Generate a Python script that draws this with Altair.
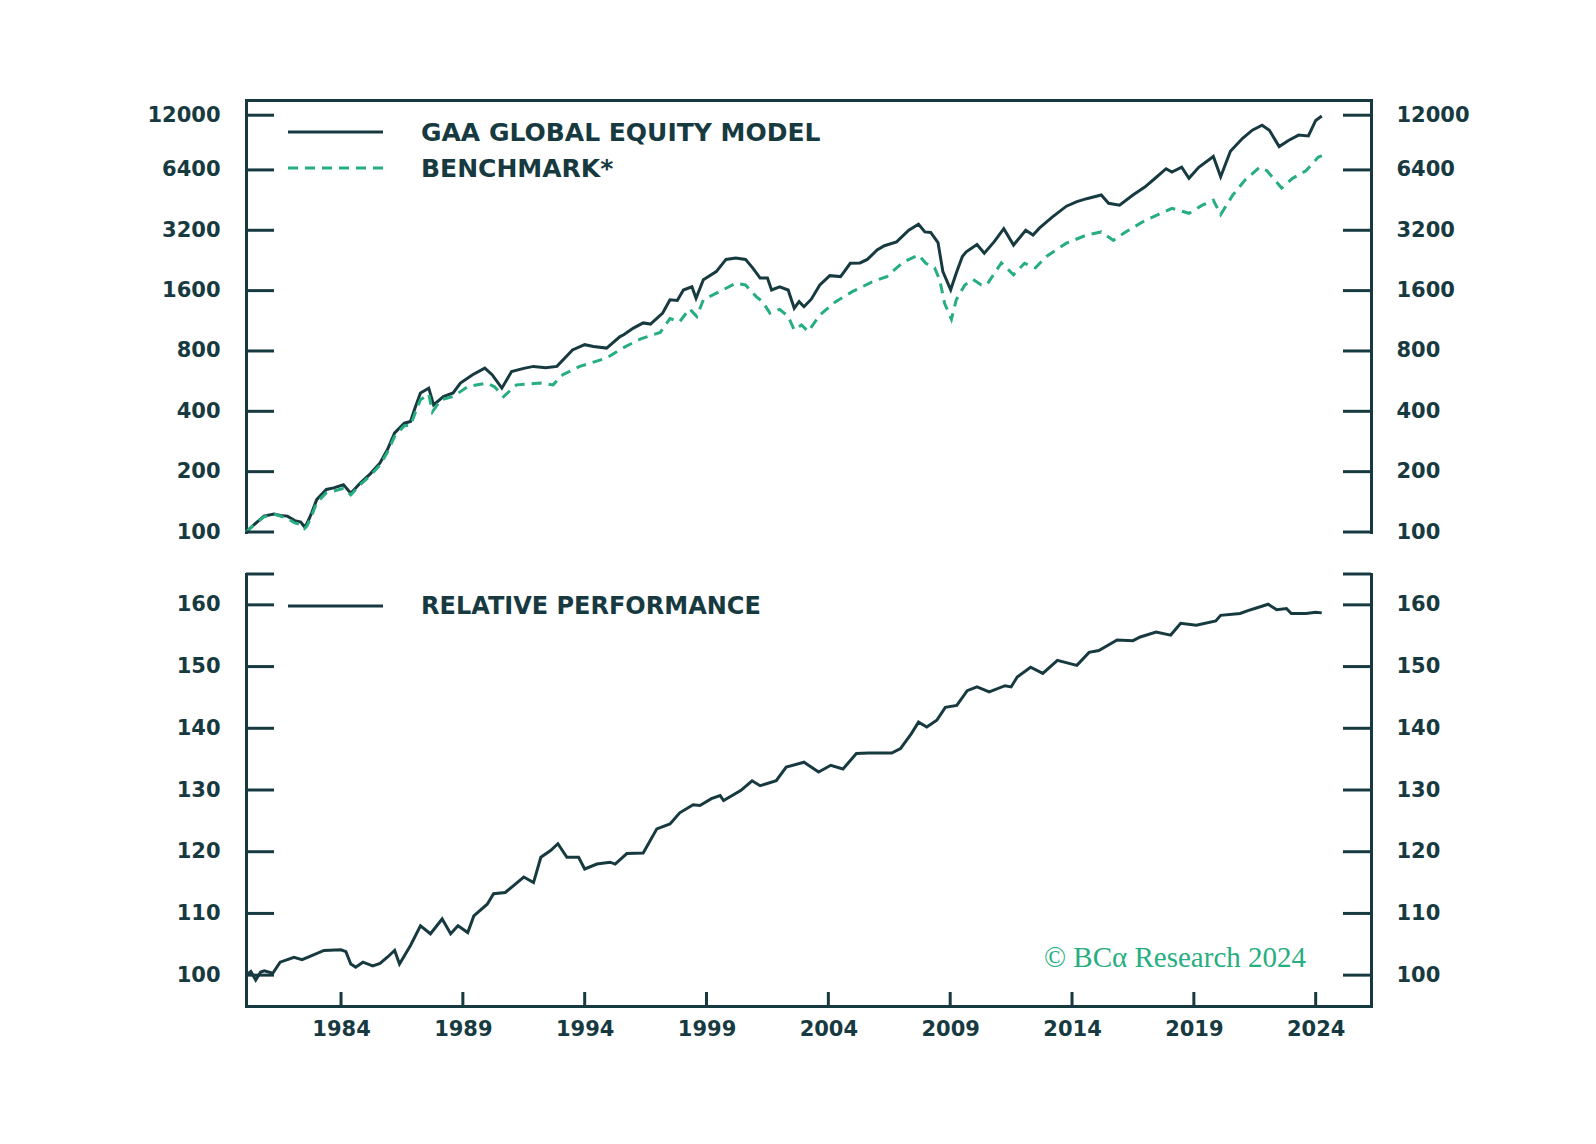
import altair as alt
import pandas as pd

# ---------------- data ----------------
model_years = [1980.1, 1980.4, 1980.84, 1981.25, 1981.5, 1981.8, 1982.1, 1982.35, 1982.5, 1982.6,
               1982.8, 1983.0, 1983.4, 1983.7, 1984.1, 1984.4, 1984.8, 1985.2, 1985.6, 1985.9,
               1986.2, 1986.6, 1986.85, 1987.05, 1987.26, 1987.6, 1987.8, 1988.2, 1988.6, 1988.9,
               1989.4, 1989.9, 1990.2, 1990.6, 1991.0, 1991.5, 1991.9, 1992.4, 1992.86, 1993.5,
               1994.0, 1994.36, 1994.9, 1995.45, 1995.6, 1996.0, 1996.4, 1996.7, 1997.2, 1997.5,
               1997.8, 1998.05, 1998.4, 1998.57, 1998.87, 1999.4, 1999.8, 2000.2, 2000.6, 2000.9,
               2001.2, 2001.5, 2001.67, 2002.0, 2002.35, 2002.6, 2002.8, 2003.0, 2003.3, 2003.65,
               2004.06, 2004.5, 2004.9, 2005.3, 2005.6, 2006.0, 2006.3, 2006.8, 2007.3, 2007.7,
               2007.96, 2008.2, 2008.5, 2008.7, 2009.02, 2009.25, 2009.5, 2009.66, 2010.1, 2010.4,
               2010.8, 2011.2, 2011.6, 2012.1, 2012.4, 2012.67, 2013.2, 2013.77, 2014.2, 2014.6,
               2015.2, 2015.5, 2015.95, 2016.5, 2017.0, 2017.4, 2017.86, 2018.1, 2018.5, 2018.8,
               2019.2, 2019.8, 2020.1, 2020.5, 2021.0, 2021.4, 2021.8, 2022.1, 2022.5, 2022.9,
               2023.3, 2023.7, 2024.0, 2024.25]
model_values = [100, 108, 120, 123, 121, 120, 114, 112, 106, 110,
                125, 145, 163, 166, 172, 156, 176, 195, 221, 257,
                312, 349, 356, 420, 494, 522, 431, 474, 494, 553,
                609, 657, 609, 522, 632, 655, 670, 660, 670, 810,
                860, 843, 827, 944, 963, 1040, 1104, 1090, 1236, 1440,
                1430, 1612, 1672, 1465, 1813, 1990, 2290, 2330, 2290, 2073,
                1847, 1847, 1612, 1672, 1612, 1307, 1410, 1330, 1450, 1707,
                1900, 1880, 2190, 2200, 2290, 2550, 2680, 2800, 3200, 3430,
                3140, 3120, 2780, 1990, 1615, 1960, 2370, 2500, 2720, 2460,
                2800, 3260, 2700, 3200, 3030, 3290, 3730, 4220, 4450, 4600,
                4800, 4360, 4270, 4800, 5270, 5800, 6490, 6240, 6600, 5810,
                6600, 7470, 5920, 7930, 9200, 10100, 10700, 10100, 8370, 9000,
                9550, 9450, 11300, 11900]

bench_years = [1980.1, 1980.4, 1980.84, 1981.25, 1981.5, 1981.8, 1982.1, 1982.35, 1982.5, 1982.6,
               1982.8, 1983.0, 1983.4, 1983.7, 1984.1, 1984.4, 1984.8, 1985.2, 1985.6, 1985.9,
               1986.2, 1986.6, 1986.85, 1987.05, 1987.26, 1987.6, 1987.75, 1988.1, 1988.6, 1989.2,
               1990.0, 1990.3, 1990.67, 1991.2, 1991.7, 1992.2, 1992.7, 1993.1, 1993.8, 1994.3,
               1994.9, 1995.5, 1996.3, 1997.1, 1997.5, 1997.9, 1998.3, 1998.6, 1998.87, 1999.55,
               2000.2, 2000.6, 2001.05, 2001.3, 2001.6, 2002.0, 2002.35, 2002.6, 2002.9, 2003.17,
               2003.65, 2004.3, 2005.0, 2005.8, 2006.4, 2007.07, 2007.7, 2008.0, 2008.36, 2008.57,
               2008.77, 2009.05, 2009.25, 2009.6, 2009.94, 2010.28, 2010.5, 2011.1, 2011.6, 2012.05,
               2012.5, 2012.95, 2013.77, 2014.6, 2015.2, 2015.7, 2016.2, 2017.0, 2018.1, 2018.8,
               2019.35, 2019.8, 2020.1, 2020.6, 2021.1, 2021.7, 2022.0, 2022.6, 2023.05, 2023.6,
               2024.1, 2024.25]
bench_values = [100, 108, 119, 123, 120, 117, 111, 109, 104, 107,
                121, 140, 157, 160, 165, 153, 173, 191, 216, 250,
                300, 339, 340, 395, 457, 488, 398, 457, 474, 531,
                553, 530, 474, 542, 548, 553, 542, 609, 670, 700,
                738, 820, 920, 990, 1160, 1120, 1300, 1190, 1440, 1585,
                1740, 1707, 1490, 1410, 1236, 1290, 1190, 1018, 1078, 1000,
                1210, 1410, 1585, 1770, 1880, 2220, 2410, 2190, 2080, 1813,
                1384, 1150, 1440, 1707, 1820, 1707, 1710, 2200, 1920, 2190,
                2080, 2370, 2760, 3030, 3140, 2850, 3140, 3580, 4120, 3890,
                4270, 4520, 3830, 4800, 5700, 6600, 6340, 5200, 5810, 6340,
                7400, 7540]

rel_years = [1980.1, 1980.3, 1980.5, 1980.7, 1980.85, 1981.2, 1981.5, 1982.07, 1982.4, 1982.75,
             1983.3, 1984.0, 1984.2, 1984.4, 1984.6, 1984.9, 1985.3, 1985.6, 1985.9, 1986.2,
             1986.4, 1986.85, 1987.26, 1987.67, 1988.15, 1988.5, 1988.8, 1989.2, 1989.45, 1990.0,
             1990.26, 1990.74, 1991.08, 1991.5, 1991.9, 1992.2, 1992.6, 1992.9, 1993.27, 1993.75,
             1994.0, 1994.5, 1995.04, 1995.25, 1995.73, 1996.4, 1996.96, 1997.5, 1997.9, 1998.45,
             1998.73, 1999.2, 1999.56, 1999.7, 2000.4, 2000.87, 2001.2, 2001.86, 2002.27, 2003.0,
             2003.6, 2004.1, 2004.6, 2005.15, 2005.65, 2006.6, 2006.96, 2007.4, 2007.7, 2008.04,
             2008.45, 2008.8, 2009.27, 2009.7, 2010.1, 2010.6, 2011.25, 2011.5, 2011.75, 2012.3,
             2012.8, 2013.4, 2014.2, 2014.7, 2015.1, 2015.85, 2016.5, 2016.8, 2017.45, 2018.05,
             2018.46, 2019.1, 2019.9, 2020.1, 2020.9, 2021.25, 2021.5, 2022.05, 2022.4, 2022.8,
             2023.0, 2023.6, 2024.0, 2024.25]
rel_values = [100.0, 100.6, 99.2, 100.5, 100.7, 100.3, 102.1, 102.9, 102.5, 103.1,
              104.0, 104.1, 103.8, 101.8, 101.3, 102.1, 101.5, 101.9, 102.9, 104.0,
              101.8, 104.8, 108.0, 106.7, 109.1, 106.7, 108.0, 106.9, 109.6, 111.5,
              113.2, 113.4, 114.5, 115.9, 115.0, 119.1, 120.2, 121.3, 119.1, 119.1,
              117.2, 118.0, 118.3, 118.0, 119.7, 119.8, 123.7, 124.5, 126.3, 127.6,
              127.5, 128.6, 129.1, 128.3, 129.9, 131.5, 130.7, 131.5, 133.7, 134.5,
              132.9, 134.0, 133.4, 135.9, 136.0, 136.0, 136.7, 139.1, 141.0, 140.2,
              141.3, 143.4, 143.7, 146.1, 146.7, 145.9, 146.9, 146.7, 148.3, 149.9,
              148.9, 151.0, 150.2, 152.3, 152.6, 154.3, 154.2, 154.8, 155.6, 155.1,
              157.0, 156.7, 157.4, 158.3, 158.6, 159.1, 159.4, 160.1, 159.2, 159.4,
              158.6, 158.6, 158.8, 158.7]

top_ticks = [100, 200, 400, 800, 1600, 3200, 6400, 12000]
bot_ticks = [100, 110, 120, 130, 140, 150, 160]
bot_cap_ticks = [100, 110, 120, 130, 140, 150, 160, 165]
x_ticks = [1984, 1989, 1994, 1999, 2004, 2009, 2014, 2019, 2024]

legend_top = ["GAA GLOBAL EQUITY MODEL", "BENCHMARK*"]
legend_bot = ["RELATIVE PERFORMANCE"]
copyright_text = "© BCα Research 2024"

# ---------------- styling ----------------
DARK = "#173a41"
GREEN = "#27ae80"
FONT = "DejaVu Sans"
W, H = 1125, 432
TICK = 28
LW = 3

model_df = pd.DataFrame({"year": model_years, "value": model_values})
bench_df = pd.DataFrame({"year": bench_years, "value": bench_values})
rel_df = pd.DataFrame({"year": rel_years, "value": rel_values})
top_tick_df = pd.DataFrame({"v": top_ticks})
bot_tick_df = pd.DataFrame({"v": bot_cap_ticks})
xtick_df = pd.DataFrame({"year": x_ticks})
one = pd.DataFrame({"a": [0]})

xscale = alt.Scale(domain=[1980.1, 2026.27], nice=False, zero=False)
ytop = alt.Scale(type="log", domain=[100, 14290], nice=False)
ybot = alt.Scale(domain=[95, 165], nice=False, zero=False)

lab = dict(labelFont=FONT, labelFontSize=21, labelFontWeight="bold", labelColor=DARK,
           domainColor=DARK, domainWidth=LW, domainCap="square", grid=False, title=None,
           labelOverlap=False)

x_top_axis = alt.Axis(orient="top", labels=False, ticks=False, **lab)
x_bot_axis = alt.Axis(orient="bottom", values=x_ticks, format="d", ticks=False, tickSize=0,
                      labelPadding=12, **lab)

# ---------------- top panel ----------------
model_line = alt.Chart(model_df).mark_line(color=DARK, strokeWidth=LW).encode(
    x=alt.X("year:Q", scale=xscale, axis=x_top_axis),
    y=alt.Y("value:Q", scale=ytop,
            axis=alt.Axis(orient="left", values=top_ticks, format="d", ticks=False, tickSize=0,
                          labelPadding=26, **lab)),
)
bench_line = alt.Chart(bench_df).mark_line(color=GREEN, strokeWidth=LW, strokeDash=[10, 7]).encode(
    x=alt.X("year:Q", scale=xscale, axis=x_top_axis),
    y=alt.Y("value:Q", scale=ytop,
            axis=alt.Axis(orient="right", values=top_ticks, format="d", ticks=False, tickSize=0,
                          labelPadding=25, **lab)),
)
top_lt = alt.Chart(top_tick_df).mark_rule(color=DARK, strokeWidth=LW).encode(
    y=alt.Y("v:Q", scale=ytop, axis=None), x=alt.value(0), x2=alt.value(TICK))
top_rt = alt.Chart(top_tick_df).mark_rule(color=DARK, strokeWidth=LW).encode(
    y=alt.Y("v:Q", scale=ytop, axis=None), x=alt.value(W - TICK), x2=alt.value(W))

leg1_line = alt.Chart(one).mark_rule(color=DARK, strokeWidth=LW).encode(
    x=alt.value(42), x2=alt.value(137), y=alt.value(32))
leg2_line = alt.Chart(one).mark_rule(color=GREEN, strokeWidth=LW, strokeDash=[10, 7]).encode(
    x=alt.value(42), x2=alt.value(137), y=alt.value(68))
leg1_text = alt.Chart(one).mark_text(text=legend_top[0], align="left", baseline="middle", font=FONT,
                                     fontSize=25, fontWeight="bold", color=DARK).encode(
    x=alt.value(175), y=alt.value(33))
leg2_text = alt.Chart(one).mark_text(text=legend_top[1], align="left", baseline="middle", font=FONT,
                                     fontSize=25, fontWeight="bold", color=DARK).encode(
    x=alt.value(175), y=alt.value(69))

top = alt.layer(model_line, bench_line, top_lt, top_rt, leg1_line, leg2_line, leg1_text, leg2_text
                ).resolve_axis(y="independent").properties(width=W, height=H)

# ---------------- bottom panel ----------------
rel_line = alt.Chart(rel_df).mark_line(color=DARK, strokeWidth=LW).encode(
    x=alt.X("year:Q", scale=xscale, axis=x_bot_axis),
    y=alt.Y("value:Q", scale=ybot,
            axis=alt.Axis(orient="left", values=bot_ticks, format="d", ticks=False, tickSize=0,
                          labelPadding=26, **lab)),
)
bot_lt = alt.Chart(bot_tick_df).mark_rule(color=DARK, strokeWidth=LW).encode(
    y=alt.Y("v:Q", scale=ybot, axis=None), x=alt.value(0), x2=alt.value(TICK))
bot_rt = alt.Chart(bot_tick_df).mark_rule(color=DARK, strokeWidth=LW).encode(
    y=alt.Y("v:Q", scale=ybot,
            axis=alt.Axis(orient="right", values=bot_ticks, format="d", ticks=False, tickSize=0,
                          labelPadding=25, **lab)),
    x=alt.value(W - TICK), x2=alt.value(W))
bot_xt = alt.Chart(xtick_df).mark_rule(color=DARK, strokeWidth=LW).encode(
    x=alt.X("year:Q", scale=xscale, axis=x_bot_axis), y=alt.value(H - 14), y2=alt.value(H))

leg3_line = alt.Chart(one).mark_rule(color=DARK, strokeWidth=LW).encode(
    x=alt.value(42), x2=alt.value(137), y=alt.value(32))
leg3_text = alt.Chart(one).mark_text(text=legend_bot[0], align="left", baseline="middle", font=FONT,
                                     fontSize=24, fontWeight="bold", color=DARK).encode(
    x=alt.value(175), y=alt.value(33))
copy_txt = alt.Chart(one).mark_text(text=copyright_text, align="right", baseline="middle",
                                    font="Liberation Serif", fontSize=29, color=GREEN).encode(
    x=alt.value(1060), y=alt.value(384))

bottom = alt.layer(rel_line, bot_lt, bot_rt, bot_xt, leg3_line, leg3_text, copy_txt
                   ).resolve_axis(y="independent").properties(width=W, height=H)

chart = alt.vconcat(top, bottom, spacing=30).properties(
    padding={"left": 138, "top": 92, "right": 10, "bottom": 10},
    background="white",
).configure_view(stroke=None)

chart.save("out.html", embed_options={"renderer": "svg", "actions": False})
